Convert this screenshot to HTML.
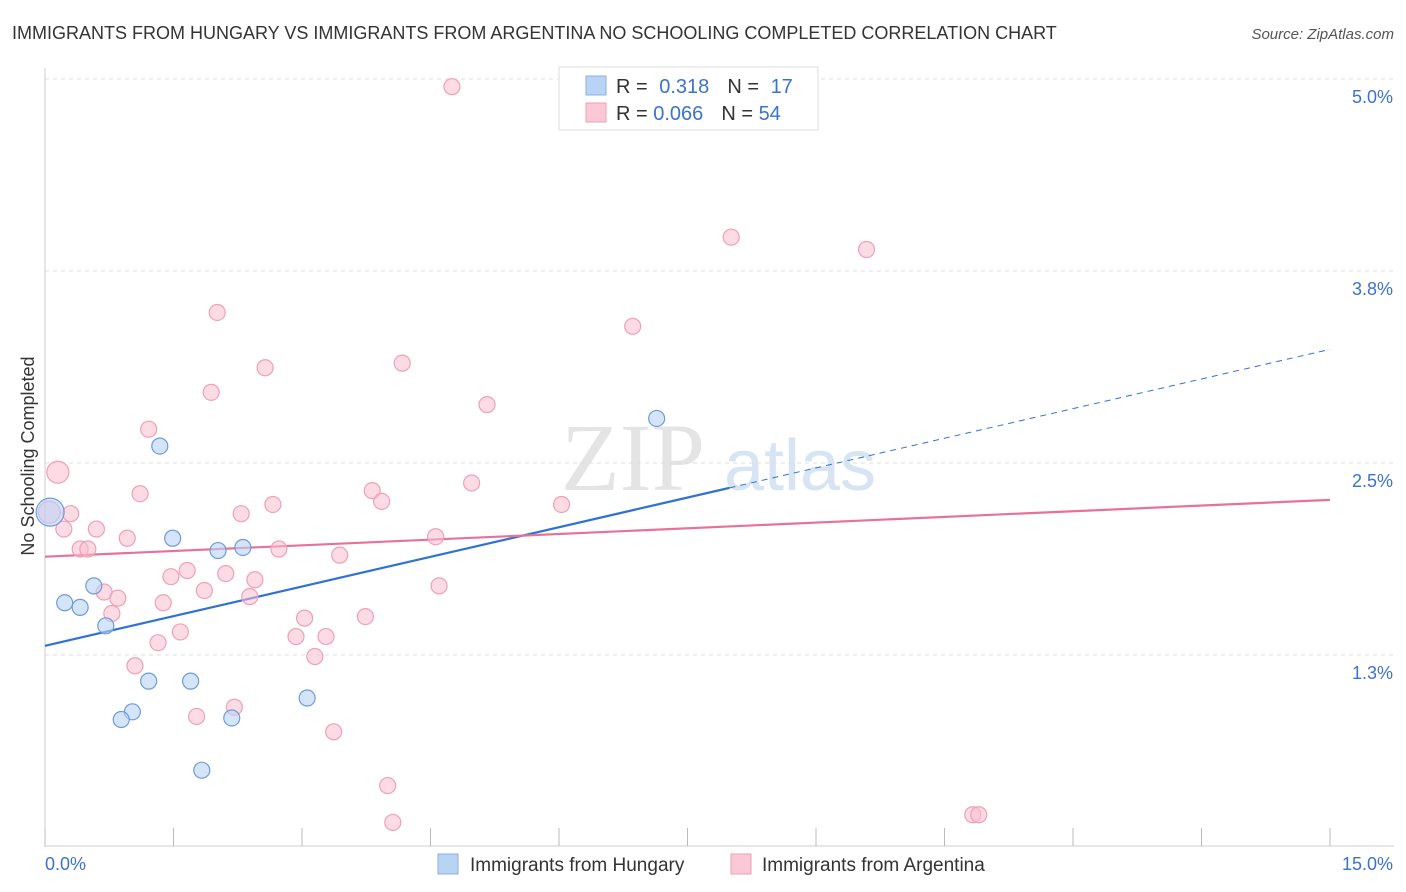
<!DOCTYPE html>
<html><head><meta charset="utf-8"><style>
body{margin:0;background:#fff;font-family:"Liberation Sans",sans-serif;}
svg{display:block}
</style></head><body>
<svg id="chart" width="1406" height="892">
<text x="12" y="39" font-size="18" fill="#333">IMMIGRANTS FROM HUNGARY VS IMMIGRANTS FROM ARGENTINA NO SCHOOLING COMPLETED CORRELATION CHART</text>
<text x="1394" y="39" font-size="15" fill="#555" font-style="italic" text-anchor="end">Source: ZipAtlas.com</text>
<text x="633" y="490" font-size="96" fill="#e4e4e4" font-family="Liberation Serif" text-anchor="middle">ZIP</text>
<text x="800" y="490" font-size="72" fill="#d6e4f3" text-anchor="middle">atlas</text>
<g id="grid"></g><g id="axes"></g><g id="lines"></g><g id="pts"></g>
<text transform="translate(34,456) rotate(-90)" font-size="18" fill="#333" text-anchor="middle">No Schooling Completed</text>
<g>
<rect x="559" y="67" width="259" height="63" fill="#fff" stroke="#ddd"/>
<rect x="586" y="76" width="20" height="19" fill="#b9d3f5" stroke="#8ab0e6"/>
<rect x="586" y="103" width="20" height="19" fill="#fbc8d6" stroke="#ee9fb6"/>
<text x="616" y="93" font-size="20" fill="#333">R = <tspan fill="#3a73cf" dx="6">0.318</tspan><tspan dx="18" fill="#333">N = </tspan><tspan dx="6" fill="#3a73cf">17</tspan></text>
<text x="616" y="120" font-size="20" fill="#333">R = <tspan fill="#3a73cf">0.066</tspan><tspan dx="18" fill="#333">N = </tspan><tspan fill="#3a73cf">54</tspan></text>
</g>
<g>
<rect x="438" y="854" width="20" height="20" fill="#b9d3f5" stroke="#8ab0e6"/>
<text x="470" y="871" font-size="19" fill="#333">Immigrants from Hungary</text>
<rect x="731" y="854" width="20" height="20" fill="#fbc8d6" stroke="#ee9fb6"/>
<text x="762" y="871" font-size="19" fill="#333">Immigrants from Argentina</text>
</g>
</svg>
<script>
const xTicks=[0,1.5,3,4.5,6,7.5,9,10.5,12,13.5,15];
const yTicks=[1.25,2.5,3.75,5.0];
const yTickLabels=["1.3%","2.5%","3.8%","5.0%"];
const hungaryX=[0.06,1.34,1.49,2.02,2.31,0.57,0.23,0.41,0.71,1.21,1.70,1.02,0.89,2.18,3.06,1.83,7.14];
const hungaryY=[2.18,2.61,2.01,1.93,1.95,1.70,1.59,1.56,1.44,1.08,1.08,0.88,0.83,0.84,0.97,0.50,2.79];
const argX=[0.15,4.75,8.01,9.59,2.01,6.86,2.57,4.17,1.94,5.16,1.21,1.11,3.82,3.93,4.98,6.03,2.66,2.29,0.30,0.22,0.60,0.96,0.41,0.50,2.73,3.44,4.56,1.66,1.47,2.11,2.45,4.60,0.69,0.85,1.86,2.39,1.38,0.78,3.03,3.74,1.58,2.93,3.28,1.32,3.15,1.05,2.21,1.77,3.37,4.00,4.06,10.83,0.05,10.9];
const argY=[2.44,4.95,3.97,3.89,3.48,3.39,3.12,3.15,2.96,2.88,2.72,2.30,2.32,2.25,2.37,2.23,2.23,2.17,2.17,2.07,2.07,2.01,1.94,1.94,1.94,1.90,2.02,1.80,1.76,1.78,1.74,1.70,1.66,1.62,1.67,1.63,1.59,1.52,1.49,1.50,1.40,1.37,1.37,1.33,1.24,1.18,0.91,0.85,0.75,0.40,0.16,0.21,2.18,0.21];
const hungaryTrend=[1.31,3.24];
const argTrend=[1.89,2.26];
const NS="http://www.w3.org/2000/svg";
const X=v=>45+v/15*1285, Y=v=>847-v/1.25*192;
function mk(p,t,a){const e=document.createElementNS(NS,t);for(const k in a)e.setAttribute(k,a[k]);document.getElementById(p).appendChild(e);return e;}
yTicks.forEach((t,i)=>{
 const g=mk('grid','line',{x1:45,x2:1394,y1:Y(t),y2:Y(t),stroke:'#ddd','stroke-dasharray':'4,4'});
 
 
 const l=mk('axes','text',{x:1393,y:Y(t)+24,'font-size':18,fill:'#3a73cf','text-anchor':'end'});l.textContent=yTickLabels[i];
 
 
});
mk('axes','line',{x1:45,x2:45,y1:68,y2:847,stroke:'#ccc'});
mk('axes','line',{x1:45,x2:1394,y1:846,y2:846,stroke:'#ccc'});
xTicks.forEach(t=>{const e=mk('axes','line',{x1:X(t),x2:X(t),y1:828,y2:846,stroke:'#bbb'});
 
 });
let a=mk('axes','text',{x:45,y:870,'font-size':18,fill:'#3a73cf'});a.textContent="0.0%";


a=mk('axes','text',{x:1393,y:870,'font-size':18,fill:'#3a73cf','text-anchor':'end'});a.textContent="15.0%";


const hy=x=>hungaryTrend[0]+(hungaryTrend[1]-hungaryTrend[0])*x/15;
let l=mk('lines','line',{x1:X(0),y1:Y(hy(0)),x2:X(7.99),y2:Y(hy(7.99)),stroke:'#2f72d6','stroke-width':2.2});


l=mk('lines','line',{x1:X(7.99),y1:Y(hy(7.99)),x2:X(15),y2:Y(hy(15)),stroke:'#2f72d6','stroke-width':1,'stroke-dasharray':'6,5'});


l=mk('lines','line',{x1:X(0),y1:Y(argTrend[0]),x2:X(15),y2:Y(argTrend[1]),stroke:'#e8719a','stroke-width':2.2});


argX.forEach((x,i)=>{const c=mk('pts','circle',{cx:X(x),cy:Y(argY[i]),r:i==0||i==52?11:8,fill:'rgba(250,190,208,0.55)',stroke:'#eea0b8','stroke-width':1.2});
 
 });
hungaryX.forEach((x,i)=>{const c=mk('pts','circle',{cx:X(x),cy:Y(hungaryY[i]),r:i==0?14:8,fill:'rgba(185,211,245,0.6)',stroke:'#6f9ad8','stroke-width':1.2});
 
 });
</script>
</body></html>
